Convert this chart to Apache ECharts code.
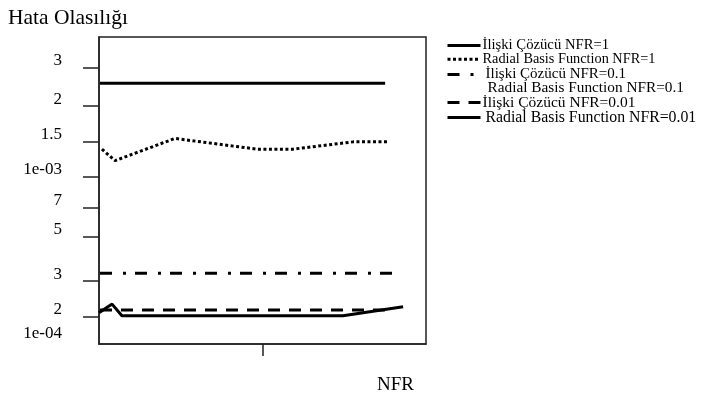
<!DOCTYPE html>
<html>
<head>
<meta charset="utf-8">
<script src="https://cdn.jsdelivr.net/npm/echarts@6/dist/echarts.min.js"></script>
<style>html,body{margin:0;padding:0;background:#fff}#c{width:723px;height:403px}</style>
</head>
<body>
<div id="c"></div>
<script>
// ---- data ----
const seriesNames = ['İlişki Çözücü NFR=1','Radial Basis Function NFR=1','İlişki Çözücü NFR=0.1','Radial Basis Function NFR=0.1','İlişki Çözücü NFR=0.01','Radial Basis Function NFR=0.01'];
const s1x = [0.3, 87.5];
const s1y = [2.93e-3, 2.93e-3];
const s2x = [0.9, 4.9, 23.2, 48.3, 59.3, 77.7, 88.1];
const s2y = [1.37e-3, 1.20e-3, 1.55e-3, 1.37e-3, 1.37e-3, 1.49e-3, 1.49e-3];
const s3x = [0.3, 91];
const s3y = [3.28e-4, 3.28e-4];
const s4x = [];
const s4y = [];
const s5x = [0.3, 89];
const s5y = [2.15e-4, 2.15e-4];
const s6x = [0, 4.0, 7.0, 74.6, 93.0];
const s6y = [2.08e-4, 2.30e-4, 2.01e-4, 2.01e-4, 2.23e-4];
const yTickValues = [2e-4, 3e-4, 5e-4, 7e-4, 1e-3, 1.5e-3, 2.25e-3, 3.5e-3];
const yLabelValues = [1.51e-4, 2e-4, 3e-4, 5e-4, 7e-4, 1e-3, 1.5e-3, 2.25e-3, 3.5e-3];
const yLabelTexts = ['1e-04', '2', '3', '5', '7', '1e-03', '1.5', '2', '3'];
const xTickValues = [50];
const yMin = 1.453e-4, yMax = 4.985e-3;

// ---- build ----
const L = v => Math.log10(v);
const pts = (xs, ys) => xs.map((x, i) => [x, L(ys[i])]);
const FONT = '"Liberation Serif", "Times New Roman", serif';
const labelMap = {};
yLabelValues.forEach((v, i) => { labelMap[L(v).toFixed(4)] = yLabelTexts[i]; });

const styles = [
  {width: 3, type: 'solid'},
  {width: 3, type: [3, 2.5]},
  {width: 3, type: [12, 11, 3, 9]},
  {width: 3, type: 'solid', opacity: 0},
  {width: 3, type: [12, 9]},
  {width: 3, type: 'solid'}
];
const legendFont = [14.7, 14.3, 15, 15.3, 15.5, 15.8];
const legendIndent = [-3, -3, 0, 2, -3, 0];
const legendTop = [38, 52.2, 66.9, 80.7, 94.6, 109.4];
const xs = [s1x, s2x, s3x, s4x, s5x, s6x];
const ysAll = [s1y, s2y, s3y, s4y, s5y, s6y];

const chart = echarts.init(document.getElementById('c'), null, {renderer: 'canvas'});
chart.setOption({
  animation: false,
  backgroundColor: '#fff',
  title: [
    {text: 'Hata Olasılığı', left: 8, top: 7, padding: 0,
     textStyle: {fontFamily: FONT, fontSize: 21.5, fontWeight: 'normal', color: '#000'}},
    {text: 'NFR', left: 377, top: 376, padding: 0,
     textStyle: {fontFamily: FONT, fontSize: 19, fontWeight: 'normal', color: '#000'}}
  ],
  grid: {left: 99, top: 37, width: 327, height: 307, show: true, borderColor: '#222', borderWidth: 1.5, containLabel: false, outerBoundsMode: 'none'},
  legend: seriesNames.map((n, i) => ({
    orient: 'vertical', left: 446, top: legendTop[i], padding: 0,
    itemWidth: 33, itemHeight: 14, itemGap: 0,
    itemStyle: {opacity: 0},
    lineStyle: {width: 3},
    textStyle: {fontFamily: FONT, fontSize: legendFont[i], color: '#000', padding: [0, 0, 0, legendIndent[i]]},
    data: [n]
  })),
  xAxis: {
    type: 'value', min: 0, max: 100,
    axisLine: {show: true, lineStyle: {color: '#222', width: 1.5}},
    axisTick: {show: true, inside: false, length: 12, customValues: xTickValues, lineStyle: {color: '#222', width: 1.5}},
    axisLabel: {show: false},
    splitLine: {show: false}
  },
  yAxis: {
    type: 'value', min: L(yMin), max: L(yMax),
    axisLine: {show: true, lineStyle: {color: '#222', width: 1.5}},
    axisTick: {show: true, inside: false, length: 16, customValues: yTickValues.map(L), lineStyle: {color: '#222', width: 1.5}},
    axisLabel: {
      show: true, margin: 37, customValues: yLabelValues.map(L),
      verticalAlign: 'bottom', lineHeight: 14,
      fontFamily: FONT, fontSize: 17, color: '#000',
      formatter: v => labelMap[Number(v).toFixed(4)] || ''
    },
    splitLine: {show: false}
  },
  series: seriesNames.map((n, i) => ({
    name: n, type: 'line', symbol: 'none', silent: true,
    data: pts(xs[i], ysAll[i]),
    itemStyle: {color: '#000', opacity: styles[i].opacity === 0 ? 0 : 1},
    lineStyle: {color: '#000', width: styles[i].width, type: styles[i].type, opacity: styles[i].opacity === 0 ? 0 : 1, cap: 'butt'}
  }))
});
</script>
</body>
</html>
